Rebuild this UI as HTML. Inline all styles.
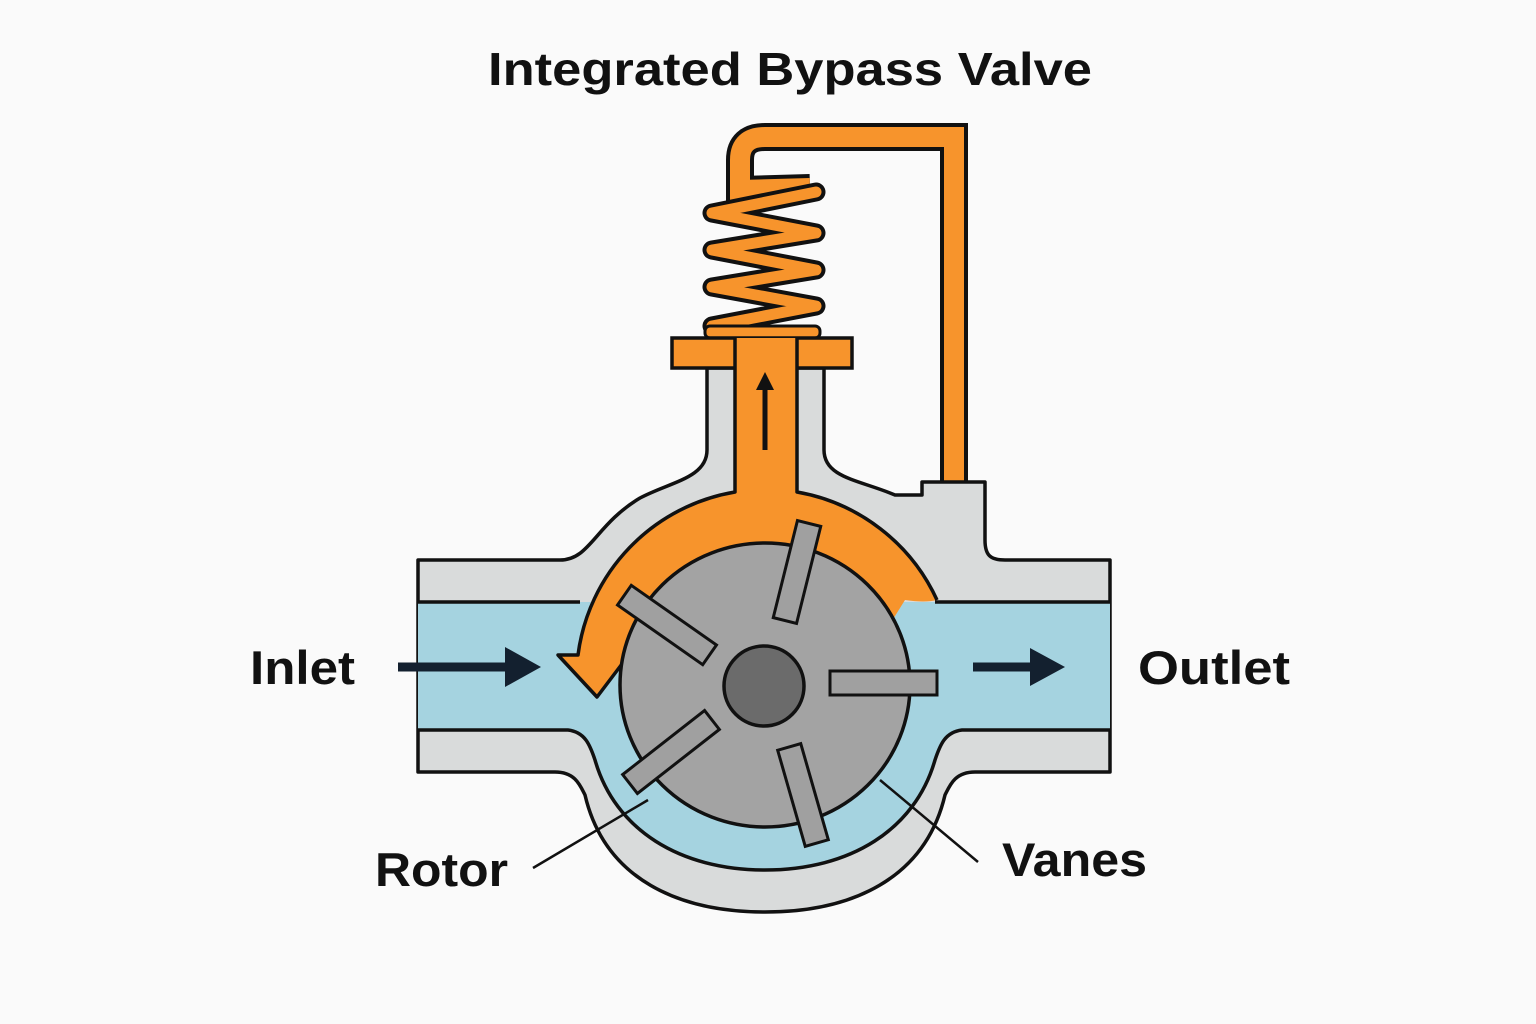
<!DOCTYPE html>
<html><head><meta charset="utf-8"><style>
html,body{margin:0;padding:0;background:#fafafa;}
svg{display:block;}
text{font-family:"Liberation Sans",sans-serif;font-weight:bold;fill:#111;}
</style></head><body>
<svg width="1536" height="1024" viewBox="0 0 1536 1024" xmlns="http://www.w3.org/2000/svg">
<rect width="1536" height="1024" fill="#fafafa"/>
<text x="790" y="85" font-size="46" text-anchor="middle" textLength="604" lengthAdjust="spacingAndGlyphs">Integrated Bypass Valve</text>

<!-- bypass pipe -->
<path d="M810,188 L740,190 V160 Q740,137 765,137 H954 V490" fill="none" stroke="#111" stroke-width="28" stroke-linejoin="miter"/>
<path d="M810,188 L740,190 V160 Q740,137 765,137 H954 V490" fill="none" stroke="#f7942c" stroke-width="20" stroke-linejoin="miter"/>

<!-- spring -->
<polyline points="712,326 816,306 712,287 816,270 712,250 816,233 712,213 816,192" fill="none" stroke="#111" stroke-width="19" stroke-linejoin="round" stroke-linecap="round"/>
<polyline points="712,326 816,306 712,287 816,270 712,250 816,233 712,213 816,192" fill="none" stroke="#f7942c" stroke-width="11" stroke-linejoin="round" stroke-linecap="round"/>
<rect x="705" y="326" width="115" height="12" rx="5" fill="#f7942c" stroke="#111" stroke-width="3"/>

<!-- housing -->
<path d="M418,560 H560 C590,560 595,525 640,498 C670,482 707,478 707,450 V368 H824 V450 C824,478 860,480 895,495 H922 V482 H985 V540 C985,555 990,560 1005,560 H1110 V772 H975 C955,772 950,785 945,795 C925,880 850,912 765,912 C680,912 605,880 585,795 C580,785 575,772 555,772 H418 Z" fill="#d9dbdb" stroke="#111" stroke-width="3.5" stroke-linejoin="round"/>
<path d="M418,602 H1110 V730 H962 C945,732 940,745 935,760 C915,830 850,870 765,870 C680,870 615,830 595,760 C590,745 585,732 568,730 H418 Z" fill="#a5d3e0"/>
<path d="M418,602 H580 M935,602 H1110 M418,730 H568 C585,732 590,745 595,760 C615,830 680,870 765,870 C850,870 915,830 935,760 C940,745 945,732 962,730 H1110" fill="none" stroke="#111" stroke-width="3.5"/>

<!-- flange -->
<rect x="672" y="338" width="180" height="30" fill="#f7942c" stroke="#111" stroke-width="3.5"/>
<!-- orange flow -->
<path d="M735,338 H797 V492 A190,190 0 0 1 937,600 Q925,603 905,600 L880,640 A122,122 0 0 0 640,660 L625,660 L597,697 L558,655 L578,655 A190,190 0 0 1 735,492 Z" fill="#f7942c"/>
<path d="M735,338 V492 A190,190 0 0 0 578,655 L558,655 L597,697 L625,660 M797,338 V492 A190,190 0 0 1 937,600" fill="none" stroke="#111" stroke-width="3.5" stroke-linejoin="round"/>
<path d="M765,450 V385" stroke="#111" stroke-width="5"/>
<polygon points="756,390 765,372 774,390" fill="#111"/>

<!-- rotor -->
<ellipse cx="765" cy="685" rx="145" ry="142" fill="#a3a3a3" stroke="#111" stroke-width="3.5"/>
<ellipse cx="764" cy="686" rx="40" ry="40" fill="#6b6b6b" stroke="#111" stroke-width="3.5"/>
<g fill="#a0a0a0" stroke="#111" stroke-width="3">
<rect x="-50" y="-12" width="100" height="24" transform="translate(797,572) rotate(-76)"/>
<rect x="-52" y="-12" width="104" height="24" transform="translate(667,625) rotate(35)"/>
<rect x="830" y="671" width="107" height="24"/>
<rect x="-52" y="-12" width="104" height="24" transform="translate(671,752) rotate(-38)"/>
<rect x="-50" y="-12" width="100" height="24" transform="translate(803,795) rotate(74)"/>
</g>

<!-- arrows -->
<path d="M398,667 H512" stroke="#13202f" stroke-width="9"/>
<polygon points="505,647 541,667 505,687" fill="#13202f"/>
<path d="M973,667 H1035" stroke="#13202f" stroke-width="9"/>
<polygon points="1030,648 1065,667 1030,686" fill="#13202f"/>

<!-- leaders -->
<path d="M533,868 L648,800" stroke="#111" stroke-width="2.5"/>
<path d="M978,862 L880,780" stroke="#111" stroke-width="2.5"/>

<text x="250" y="684" font-size="47" textLength="105" lengthAdjust="spacingAndGlyphs">Inlet</text>
<text x="1138" y="684" font-size="47" textLength="152" lengthAdjust="spacingAndGlyphs">Outlet</text>
<text x="375" y="886" font-size="47" textLength="133" lengthAdjust="spacingAndGlyphs">Rotor</text>
<text x="1002" y="876" font-size="47" textLength="145" lengthAdjust="spacingAndGlyphs">Vanes</text>
</svg>
</body></html>
